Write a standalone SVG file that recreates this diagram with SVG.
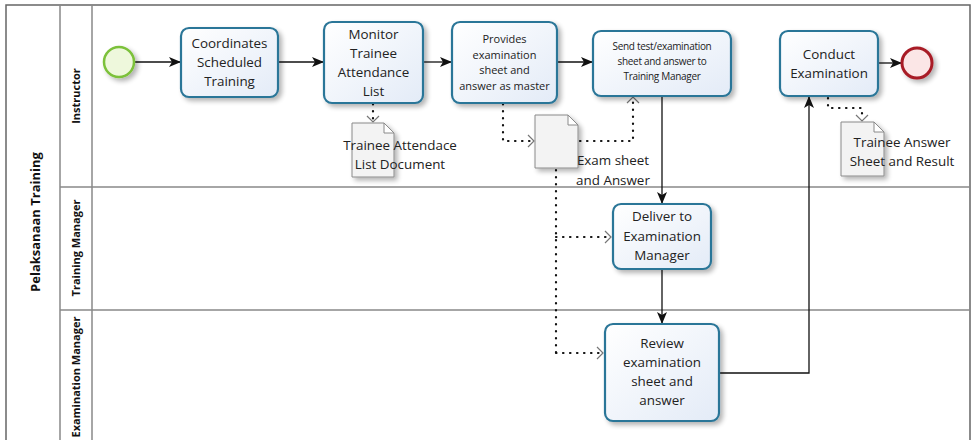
<svg xmlns="http://www.w3.org/2000/svg" width="975" height="440" viewBox="0 0 975 440">
  <defs>
    <linearGradient id="taskFill" x1="0" y1="0" x2="1" y2="1">
      <stop offset="0" stop-color="#ffffff"/>
      <stop offset="1" stop-color="#e3ebf7"/>
    </linearGradient>
    <filter id="shadow" x="-20%" y="-20%" width="150%" height="150%">
      <feGaussianBlur in="SourceAlpha" stdDeviation="2.5"/>
      <feOffset dx="3" dy="3" result="b"/>
      <feComponentTransfer><feFuncA type="linear" slope="0.3"/></feComponentTransfer>
      <feMerge><feMergeNode/><feMergeNode in="SourceGraphic"/></feMerge>
    </filter>
    <marker id="arrow" viewBox="0 0 12 10" refX="11" refY="5" markerWidth="12" markerHeight="10" markerUnits="userSpaceOnUse" orient="auto">
      <path d="M0,0 L12,5 L0,10 L3,5 Z" fill="#111"/>
    </marker>
  </defs>
  <style>
    .task { fill: url(#taskFill); stroke: #2b7698; stroke-width: 2.2; filter: url(#shadow); }
    .label { font-family: "Open Sans", "Noto Sans", sans-serif; fill: #222; text-anchor: middle; }
    .t13 { font-size: 13.4px; }
    .t11 { font-size: 11px; }
    .t10 { font-size: 10px; }
    .lane { font-family: "Open Sans", "Noto Sans", sans-serif; font-weight: bold; font-size: 11px; fill: #111; text-anchor: middle; }
    .pool { font-family: "Open Sans", "Noto Sans", sans-serif; font-weight: bold; font-size: 13px; fill: #111; text-anchor: middle; }
    .flow { fill: none; stroke: #111; stroke-width: 1.3; marker-end: url(#arrow); }
    .assoc { fill: none; stroke: #111; stroke-width: 2.2; stroke-dasharray: 0.5 6.5; stroke-linecap: round; }
    .head { fill: none; stroke: #777; stroke-width: 1.2; }
    .doc { fill: #f3f3f3; stroke: #8a8a8a; stroke-width: 1; filter: url(#shadow); }
    .fold { fill: #ffffff; stroke: #8a8a8a; stroke-width: 1; }
    .border { fill: none; stroke: #666; stroke-width: 1.5; }
    .divider { stroke: #888; stroke-width: 1.5; }
  </style>

  <rect width="975" height="440" fill="#ffffff"/>

  <!-- pool and lanes -->
  <g id="pool">
    <path class="border" d="M6,442 L6,5 L970,5 L970,442"/>
    <line class="divider" x1="60" y1="5" x2="60" y2="442"/>
    <line class="divider" x1="92" y1="5" x2="92" y2="442"/>
    <line class="divider" x1="60" y1="187" x2="970" y2="187"/>
    <line class="divider" x1="60" y1="310" x2="970" y2="310"/>
    <text class="pool" transform="translate(40,222) rotate(-90)">Pelaksanaan Training</text>
    <text class="lane" transform="translate(80,96) rotate(-90)">Instructor</text>
    <text class="lane" transform="translate(80,248) rotate(-90)">Training Manager</text>
    <text class="lane" transform="translate(80,377) rotate(-90)">Examination Manager</text>
  </g>

  <!-- connectors -->
  <g id="connectors">
    <path class="flow" d="M135,62 L180,62"/>
    <path class="flow" d="M279,62 L323,62"/>
    <path class="flow" d="M424,62 L451,62"/>
    <path class="flow" d="M558,62 L592,62"/>
    <path class="flow" d="M662,97 L662,203"/>
    <path class="flow" d="M662,270 L662,323"/>
    <path class="flow" d="M720,373 L809,373 L809,97"/>
    <path class="flow" d="M879,63 L901,63"/>

    <path class="assoc" d="M373,104 L373,120"/>
    <path class="head" d="M367,116 L373,122 L379,116"/>

    <path class="assoc" d="M503,104 L503,141 L531,141"/>
    <path class="head" d="M528,135 L534,141 L528,147"/>

    <path class="assoc" d="M580,141 L633,141 L633,100"/>
    <path class="head" d="M627,103 L633,97 L639,103"/>

    <path class="assoc" d="M556,170 L556,353"/>
    <path class="assoc" d="M556,237 L609,237"/>
    <path class="head" d="M605,231 L611,237 L605,243"/>
    <path class="assoc" d="M556,353 L601,353"/>
    <path class="head" d="M597,347 L603,353 L597,359"/>

    <path class="assoc" d="M828,98 L828,108 L862,108 L862,118"/>
    <path class="head" d="M856,115 L862,121 L868,115"/>
  </g>

  <!-- events -->
  <g id="start">
    <circle cx="119" cy="62" r="15" fill="#eef8dc" stroke="#7cc13a" stroke-width="2.5" filter="url(#shadow)"/>
  </g>
  <g id="end">
    <circle cx="917" cy="63" r="15" fill="#fbe6e6" stroke="#a81b25" stroke-width="3" filter="url(#shadow)"/>
  </g>

  <!-- tasks -->
  <g id="coordinates">
    <rect class="task" x="181" y="28" width="97" height="69" rx="8"/>
    <text class="label t13"><tspan x="229.5" y="48">Coordinates</tspan><tspan x="229.5" y="67">Scheduled</tspan><tspan x="229.5" y="86">Training</tspan></text>
  </g>
  <g id="monitor">
    <rect class="task" x="324" y="22" width="99" height="81" rx="8"/>
    <text class="label t13"><tspan x="373.5" y="39">Monitor</tspan><tspan x="373.5" y="58">Trainee</tspan><tspan x="373.5" y="77">Attendance</tspan><tspan x="373.5" y="96">List</tspan></text>
  </g>
  <g id="provides">
    <rect class="task" x="452" y="22" width="105" height="81" rx="8"/>
    <text class="label t11"><tspan x="504.5" y="43">Provides</tspan><tspan x="504.5" y="59">examination</tspan><tspan x="504.5" y="74">sheet and</tspan><tspan x="504.5" y="90">answer as master</tspan></text>
  </g>
  <g id="send">
    <rect class="task" x="593" y="31" width="138" height="65" rx="8"/>
    <text class="label t10" letter-spacing="-0.3"><tspan x="662" y="50">Send test/examination</tspan><tspan x="662" y="65">sheet and answer to</tspan><tspan x="662" y="80">Training Manager</tspan></text>
  </g>
  <g id="conduct">
    <rect class="task" x="780" y="31" width="98" height="65" rx="8"/>
    <text class="label t13"><tspan x="829" y="59">Conduct</tspan><tspan x="829" y="78">Examination</tspan></text>
  </g>
  <g id="deliver">
    <rect class="task" x="613" y="204" width="98" height="65" rx="8"/>
    <text class="label t13"><tspan x="662" y="221">Deliver to</tspan><tspan x="662" y="241">Examination</tspan><tspan x="662" y="260">Manager</tspan></text>
  </g>
  <g id="review">
    <rect class="task" x="605" y="324" width="114" height="97" rx="8"/>
    <text class="label t13"><tspan x="662" y="348">Review</tspan><tspan x="662" y="367">examination</tspan><tspan x="662" y="386">sheet and</tspan><tspan x="662" y="405">answer</tspan></text>
  </g>

  <!-- data objects -->
  <g id="attendance-doc">
    <path class="doc" d="M352,123 L384,123 L394,133 L394,177 L352,177 Z"/>
    <path class="fold" d="M384,123 L384,133 L394,133 Z"/>
    <text class="label t13"><tspan x="400" y="150">Trainee Attendace</tspan><tspan x="400" y="169">List Document</tspan></text>
  </g>
  <g id="exam-doc">
    <path class="doc" d="M535,115 L568,115 L578,125 L578,168 L535,168 Z"/>
    <path class="fold" d="M568,115 L568,125 L578,125 Z"/>
    <text class="label t13"><tspan x="613" y="165">Exam sheet</tspan><tspan x="613" y="185">and Answer</tspan></text>
  </g>
  <g id="answer-doc">
    <path class="doc" d="M841,122 L874,122 L884,132 L884,176 L841,176 Z"/>
    <path class="fold" d="M874,122 L874,132 L884,132 Z"/>
    <text class="label t13"><tspan x="902" y="147">Trainee Answer</tspan><tspan x="902" y="166">Sheet and Result</tspan></text>
  </g>
</svg>
